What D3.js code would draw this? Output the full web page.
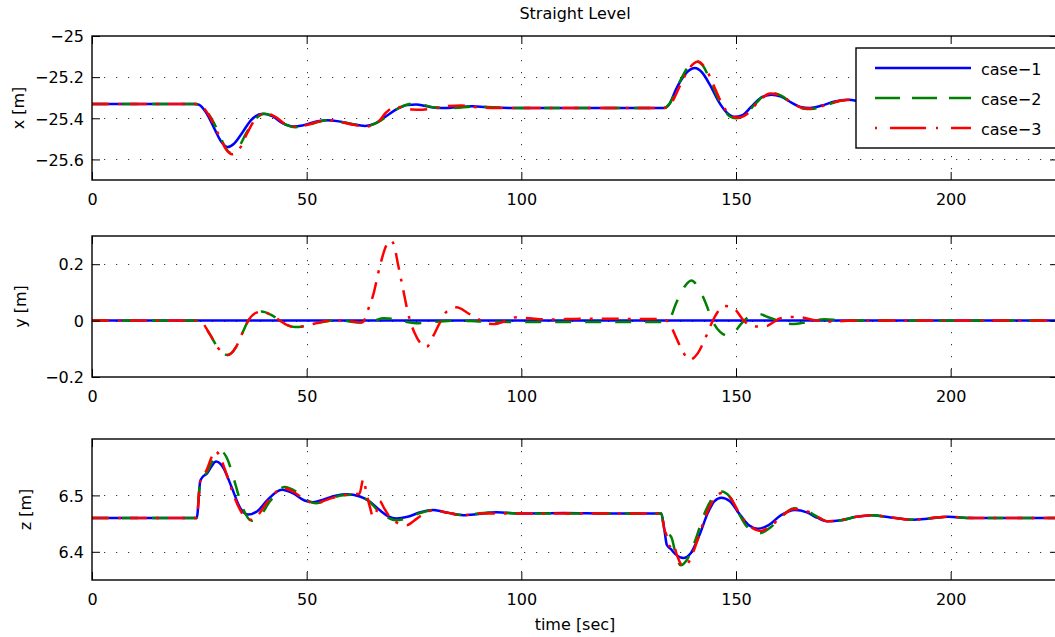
<!DOCTYPE html>
<html>
<head>
<meta charset="utf-8">
<script src="https://cdn.jsdelivr.net/npm/d3@7"></script>
<style>
  body { margin: 0; background: #fff; }
  svg { display: block; }
  text { font-family: "DejaVu Sans", sans-serif; font-size: 16px; fill: #000; }
</style>
</head>
<body>
<svg id="chart" width="1055" height="637"></svg>
<script>
// ---- data -------------------------------------------------------------
const caseNames = ["case\u22121", "case\u22122", "case\u22123"];
const timeTicks = [0, 50, 100, 150, 200];
const timeRange = [0, 225];

// x position [m]: [time, value]
const xCase1 = [[0,-25.33],[24,-25.33],[25,-25.335],[26.5,-25.37],[28.5,-25.45],[30,-25.51],[31.6,-25.54],[33,-25.525],[35,-25.47],[37,-25.41],[39.8,-25.378],[42,-25.39],[44.5,-25.425],[46.9,-25.44],[49,-25.435],[51.5,-25.42],[54.6,-25.41],[57.5,-25.415],[60.5,-25.428],[63.6,-25.437],[66,-25.425],[68.5,-25.39],[71,-25.355],[73.5,-25.335],[75.5,-25.333],[78,-25.342],[81,-25.35],[84,-25.348],[88.5,-25.342],[93,-25.347],[100,-25.35],[133.2,-25.35],[134.5,-25.33],[136,-25.26],[138,-25.19],[140.4,-25.156],[142,-25.175],[144,-25.24],[146,-25.32],[148,-25.375],[149.7,-25.393],[151.5,-25.385],[153.5,-25.345],[155.5,-25.305],[158.2,-25.285],[160.5,-25.295],[163,-25.325],[165,-25.345],[167.2,-25.35],[170,-25.338],[173,-25.318],[176,-25.31],[179,-25.318],[182,-25.33],[186,-25.338],[190,-25.335],[195,-25.33],[225,-25.33]];
const xCase2 = [[0,-25.33],[24,-25.33],[25.5,-25.34],[27.5,-25.39],[29.5,-25.47],[31,-25.54],[32.3,-25.568],[34,-25.545],[36,-25.47],[38,-25.405],[40.3,-25.378],[42.5,-25.395],[45,-25.43],[47.3,-25.443],[50,-25.435],[52.5,-25.418],[55,-25.41],[58,-25.418],[61,-25.43],[63.8,-25.438],[66.5,-25.42],[69,-25.385],[71.5,-25.35],[74.5,-25.329],[77,-25.335],[80,-25.348],[84,-25.35],[89,-25.343],[94,-25.347],[100,-25.35],[133.2,-25.35],[134.5,-25.33],[136.5,-25.24],[138.5,-25.16],[140.6,-25.12],[142.3,-25.145],[144.5,-25.24],[146.5,-25.33],[148.5,-25.39],[150,-25.4],[152,-25.385],[154.5,-25.33],[157.8,-25.275],[160.5,-25.29],[163,-25.325],[165.5,-25.352],[167.5,-25.355],[170.5,-25.34],[174,-25.316],[177,-25.31],[180,-25.32],[185,-25.335],[190,-25.333],[225,-25.33]];
const xCase3 = [[0,-25.33],[24,-25.33],[25.5,-25.34],[27.5,-25.395],[29.5,-25.48],[31.2,-25.55],[32.7,-25.575],[34.3,-25.55],[36.2,-25.47],[38.2,-25.4],[40.5,-25.375],[42.7,-25.393],[45,-25.428],[47.3,-25.44],[50,-25.433],[52.5,-25.418],[55,-25.41],[58,-25.418],[61,-25.432],[63.8,-25.44],[66.5,-25.42],[68.5,-25.372],[70.5,-25.345],[72.5,-25.348],[74.5,-25.357],[77,-25.358],[80,-25.35],[83,-25.34],[86,-25.338],[89,-25.345],[94,-25.35],[100,-25.35],[133.2,-25.35],[134.8,-25.33],[137,-25.24],[139,-25.16],[141.1,-25.125],[143,-25.16],[145,-25.25],[147,-25.34],[149,-25.39],[150.5,-25.397],[152.5,-25.38],[155,-25.325],[158,-25.28],[160.5,-25.29],[163,-25.325],[165.5,-25.35],[167.5,-25.353],[170.5,-25.338],[174,-25.316],[177,-25.31],[180,-25.32],[185,-25.335],[190,-25.333],[225,-25.33]];

// y position [m]
const yCase1 = [[0,0],[225,0]];
const yCase2 = [[0,0],[24.5,0],[25.5,-0.005],[27.5,-0.05],[29.5,-0.1],[31.6,-0.122],[33.5,-0.095],[35,-0.045],[36.4,0],[38,0.026],[39.5,0.032],[41.5,0.022],[43.8,0],[45.5,-0.016],[47.3,-0.023],[49.5,-0.02],[52,-0.01],[54.6,-0.002],[57,0.001],[60,-0.003],[63,-0.007],[65.5,-0.001],[68,0.008],[70,0.006],[72.5,-0.003],[75.5,-0.009],[78,-0.007],[82,-0.002],[86,0],[90,-0.003],[100,-0.005],[133,-0.005],[134.5,0.005],[136,0.06],[138,0.12],[139.6,0.142],[141.3,0.115],[143,0.06],[144.5,0],[146.3,-0.04],[148.2,-0.054],[149.7,-0.04],[151,-0.015],[152.5,0.008],[155.2,0.024],[157.5,0.012],[159.8,0],[161.5,-0.009],[163.5,-0.012],[165.5,-0.008],[168,0],[170.5,0.005],[174,0.002],[180,0],[225,0]];
const yCase3 = [[0,0],[24.5,0],[25.5,-0.005],[27.5,-0.05],[29.5,-0.1],[31.6,-0.122],[33.5,-0.095],[35,-0.045],[36.4,0],[38,0.026],[39.5,0.032],[41.5,0.022],[43.8,0],[45.5,-0.016],[47.3,-0.023],[49.5,-0.02],[52,-0.01],[54.6,-0.002],[57,0.001],[60,-0.003],[63,-0.006],[63.7,0.01],[64.3,0.038],[65.5,0.091],[67,0.19],[68.6,0.268],[69.6,0.284],[70.4,0.265],[71.2,0.205],[72.4,0.116],[73.6,0.027],[75.2,-0.046],[76.5,-0.08],[77.9,-0.094],[79.4,-0.057],[81,-0.008],[82.6,0.032],[84.9,0.047],[87.5,0.027],[90,0.005],[92,-0.01],[94,-0.012],[96,-0.003],[98.9,0.012],[102,0.008],[106,0.004],[115,0.007],[125,0.006],[133,0.005],[134.5,-0.01],[136.1,-0.062],[137.8,-0.115],[139.2,-0.139],[141,-0.118],[142.7,-0.068],[144.3,-0.01],[145.8,0.032],[147.2,0.052],[148.5,0.05],[149.7,0.041],[151.7,0.002],[153,-0.015],[154.5,-0.021],[157,-0.02],[158.8,-0.005],[160.2,0.008],[163,0.013],[165,0.012],[168,0.002],[172,-0.003],[178,0],[225,0]];

// z position [m]
const zCase1 = [[0,6.46],[24.4,6.46],[25.2,6.525],[25.8,6.533],[26.7,6.538],[27.7,6.55],[28.9,6.56],[30.5,6.55],[32.5,6.515],[34.5,6.478],[36.4,6.466],[38.5,6.472],[41,6.493],[44.2,6.51],[47,6.503],[49.5,6.491],[51.5,6.488],[54,6.493],[57,6.5],[59.3,6.502],[62.4,6.498],[64.5,6.49],[67,6.474],[69,6.463],[70.9,6.459],[73.5,6.462],[76.5,6.47],[79.5,6.474],[83,6.469],[86.5,6.465],[90,6.467],[94.2,6.47],[100,6.468],[110,6.469],[120,6.468],[132.6,6.468],[133.3,6.44],[133.9,6.412],[134.8,6.405],[136,6.395],[137.7,6.389],[139.5,6.398],[141.5,6.43],[143.5,6.47],[145,6.49],[146.6,6.496],[148.5,6.49],[151,6.465],[153,6.447],[155.1,6.441],[157.5,6.447],[160.5,6.465],[163.7,6.474],[166.5,6.47],[169,6.46],[171.4,6.454],[174.5,6.456],[178,6.462],[181.5,6.465],[186,6.461],[190.8,6.457],[195,6.459],[199.4,6.462],[205,6.46],[225,6.46]];
const zCase2 = [[0,6.46],[24.4,6.46],[25.2,6.525],[25.8,6.533],[26.7,6.54],[28,6.56],[29.3,6.572],[30.4,6.576],[31.5,6.565],[33,6.53],[35,6.48],[37.2,6.455],[39,6.462],[41.5,6.49],[44.9,6.515],[47.5,6.507],[50,6.492],[52.2,6.486],[55,6.492],[58,6.5],[60.5,6.501],[62.5,6.498],[64.3,6.491],[66.5,6.474],[68.5,6.462],[70.8,6.456],[73.5,6.46],[76.5,6.469],[79.5,6.474],[83,6.469],[86.5,6.465],[90,6.468],[94.2,6.47],[100,6.468],[132.6,6.468],[133.3,6.44],[134.2,6.432],[135,6.425],[136.1,6.391],[137.1,6.376],[138.5,6.385],[140.5,6.42],[142.5,6.465],[144.5,6.495],[146.6,6.507],[148.5,6.498],[150.5,6.47],[152.5,6.445],[155.5,6.433],[158,6.443],[160.5,6.462],[163.5,6.477],[166.5,6.472],[169,6.462],[171.4,6.454],[174.5,6.456],[178,6.462],[181.5,6.465],[186,6.461],[190.8,6.457],[199.4,6.462],[205,6.46],[225,6.46]];
const zCase3 = [[0,6.46],[24.4,6.46],[25.2,6.525],[25.8,6.533],[26.7,6.545],[27.7,6.565],[28.6,6.579],[29.6,6.572],[31,6.545],[33,6.5],[35,6.468],[36.8,6.457],[38.5,6.464],[41,6.49],[44.5,6.513],[47,6.506],[49.5,6.493],[52,6.486],[55,6.493],[58,6.5],[60.5,6.502],[62.3,6.503],[63.2,6.529],[63.9,6.505],[64.7,6.48],[65.5,6.462],[66.2,6.47],[67,6.49],[68,6.478],[69.5,6.46],[71.5,6.45],[73.3,6.447],[75,6.455],[77,6.466],[79.5,6.474],[83,6.469],[86.5,6.465],[90,6.468],[100,6.468],[132.6,6.468],[133.3,6.44],[133.8,6.43],[134.5,6.41],[135.3,6.415],[136.2,6.395],[137.7,6.374],[139,6.382],[141,6.42],[143,6.465],[145,6.495],[147,6.505],[148.8,6.495],[150.8,6.468],[153,6.447],[155.7,6.437],[158,6.445],[160.5,6.462],[163.5,6.476],[166.5,6.472],[169,6.462],[171.4,6.454],[174.5,6.456],[178,6.462],[181.5,6.465],[186,6.461],[190.8,6.457],[199.4,6.462],[205,6.46],[225,6.46]];

const xTicks = [-25.6, -25.4, -25.2, -25];
const yTicks = [-0.2, 0, 0.2];
const zTicks = [6.4, 6.5];

// ---- layout & styling -------------------------------------------------
const svg = d3.select("#chart");
const left = 92, right = 1058, tickLen = 8;
const caseColors = ["#0000ff", "#008000", "#ff0000"];
const caseDash = [null, "16,14", "17,9,3,9"];
const legendDash = [null, "25,12", "2,13,36,10"];
const lineWidth = 2.5;

const x = d3.scaleLinear().domain(timeRange).range([left, right]);

const panels = [
  { top: 36,  bottom: 180, domain: [-25.7, -25], ticks: xTicks, grid: [-25.6, -25.4, -25.2], label: "x [m]", labelX: 24, series: [xCase1, xCase2, xCase3] },
  { top: 236, bottom: 377, domain: [-0.2, 0.3],  ticks: yTicks, grid: [0, 0.2],              label: "y [m]", labelX: 26, series: [yCase1, yCase2, yCase3] },
  { top: 439, bottom: 580, domain: [6.35, 6.6],  ticks: zTicks, grid: [6.4, 6.5],            label: "z [m]", labelX: 30.5, series: [zCase1, zCase2, zCase3] }
];

const fmt = d => (d < 0 ? "\u2212" : "") + Math.abs(d);

panels.forEach((p, i) => {
  const y = d3.scaleLinear().domain(p.domain).range([p.bottom, p.top]);
  const g = svg.append("g");

  // grid
  const grid = g.append("g").attr("stroke", "#333").attr("stroke-width", 1)
    .attr("stroke-dasharray", "1.2,10.8").attr("fill", "none");
  grid.selectAll("line.v").data(timeTicks.filter(t => t > timeRange[0]))
    .join("line").attr("class", "v")
    .attr("x1", d => Math.round(x(d)) + 0.5).attr("x2", d => Math.round(x(d)) + 0.5)
    .attr("y1", p.top).attr("y2", p.bottom);
  grid.selectAll("line.h").data(p.grid)
    .join("line").attr("class", "h")
    .attr("y1", d => Math.round(y(d)) + 0.5).attr("y2", d => Math.round(y(d)) + 0.5)
    .attr("x1", left).attr("x2", right);

  // series
  const clipId = "clip" + i;
  svg.append("clipPath").attr("id", clipId).append("rect")
    .attr("x", left).attr("y", p.top).attr("width", right - left).attr("height", p.bottom - p.top);
  const line = d3.line().x(d => x(d[0])).y(d => y(d[1])).curve(d3.curveMonotoneX);
  g.append("g").attr("clip-path", `url(#${clipId})`)
    .selectAll("path").data(p.series).join("path")
    .attr("d", line)
    .attr("fill", "none")
    .attr("stroke", (d, k) => caseColors[k])
    .attr("stroke-width", lineWidth)
    .attr("stroke-dasharray", (d, k) => caseDash[k])
    .attr("stroke-linejoin", "round");

  // axes with inward ticks on all four sides
  const styleAxis = sel => {
    sel.select(".domain").remove();
    sel.selectAll(".tick line").attr("stroke", "#000").attr("stroke-width", 1);
    sel.attr("font-family", null).attr("font-size", null);
  };
  const ax = g.append("g").attr("transform", `translate(0,${p.bottom})`)
    .call(d3.axisBottom(x).tickValues(timeTicks).tickSizeInner(-tickLen).tickSizeOuter(0).tickFormat(d => d));
  styleAxis(ax);
  ax.selectAll(".tick text").attr("y", 24.5).attr("dy", null);

  const axTop = g.append("g").attr("transform", `translate(0,${p.top})`)
    .call(d3.axisTop(x).tickValues(timeTicks).tickSizeInner(-tickLen).tickSizeOuter(0).tickFormat(""));
  styleAxis(axTop);

  const ay = g.append("g").attr("transform", `translate(${left},0)`)
    .call(d3.axisLeft(y).tickValues(p.ticks).tickSizeInner(-tickLen).tickSizeOuter(0).tickPadding(8).tickFormat(fmt));
  styleAxis(ay);
  ay.selectAll(".tick text").attr("dy", "0.36em");

  const ayR = g.append("g").attr("transform", `translate(${right},0)`)
    .call(d3.axisRight(y).tickValues(p.ticks).tickSizeInner(-tickLen).tickSizeOuter(0).tickFormat(""));
  styleAxis(ayR);

  // frame
  g.append("rect").attr("x", left).attr("y", p.top)
    .attr("width", right - left).attr("height", p.bottom - p.top)
    .attr("fill", "none").attr("stroke", "#000").attr("stroke-width", 1.4);

  // y label
  g.append("text")
    .attr("transform", `translate(${p.labelX},${(p.top + p.bottom) / 2}) rotate(-90)`)
    .attr("text-anchor", "middle").text(p.label);
});

// title and time label
svg.append("text").attr("x", (left + right) / 2).attr("y", 19)
  .attr("text-anchor", "middle").text("Straight Level");
svg.append("text").attr("x", (left + right) / 2).attr("y", 630)
  .attr("text-anchor", "middle").text("time [sec]");

// legend
const legend = svg.append("g");
legend.append("rect").attr("x", 856).attr("y", 48).attr("width", 202).attr("height", 100)
  .attr("fill", "#fff").attr("stroke", "#000").attr("stroke-width", 1.4);
const legendRows = legend.selectAll("g.row").data(caseNames).join("g").attr("class", "row")
  .attr("transform", (d, k) => `translate(0,${68 + 30 * k})`);
legendRows.append("line").attr("x1", 875).attr("x2", 971).attr("y1", 0).attr("y2", 0)
  .attr("stroke", (d, k) => caseColors[k]).attr("stroke-width", lineWidth)
  .attr("stroke-dasharray", (d, k) => legendDash[k]);
legendRows.append("text").attr("x", 981).attr("y", 7).text(d => d);
</script>
</body>
</html>
